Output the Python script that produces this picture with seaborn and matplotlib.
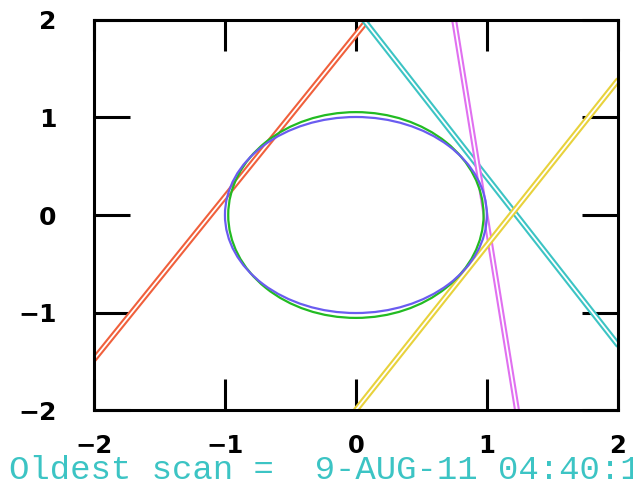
import numpy as np
import pandas as pd
import matplotlib
matplotlib.use("Agg")
import matplotlib.pyplot as plt
import matplotlib.patheffects as pe
from matplotlib.patches import Ellipse
import seaborn as sns

# ---- data ----
line_names = ["orange", "cyan", "magenta", "yellow"]
x_start = [-2.0, 0.06, 0.75, 0.0]
y_start = [-1.48, 2.0, 2.0, -2.0]
x_end = [0.09, 2.0, 1.23, 2.0]
y_end = [2.0, -1.33, -2.0, 1.38]
line_colors = ["#f0603c", "#3cc4c4", "#e070f0", "#e8d23c"]

ellipse_names = ["green", "blue"]
ellipse_cx = [0.0, 0.0]
ellipse_cy = [0.0, 0.0]
ellipse_width = [1.95, 2.0]
ellipse_height = [2.11, 2.01]
ellipse_colors = ["#22bb22", "#6a5cf0"]

x_ticks = [-2, -1, 0, 1, 2]
y_ticks = [-2, -1, 0, 1, 2]
footer = "Oldest scan =  9-AUG-11 04:40:1"

# ---- build table ----
rows = []
for n, xs, ys, xe, ye in zip(line_names, x_start, y_start, x_end, y_end):
    rows.append({"name": n, "x": xs, "y": ys})
    rows.append({"name": n, "x": xe, "y": ye})
df = pd.DataFrame(rows)

sns.set_theme(style="white")
plt.rcParams["font.family"] = ["DejaVu Sans"]

fig = plt.figure(figsize=(6.33, 4.87), dpi=100)
ax = fig.add_axes([0.1485, 0.158, 0.8275, 0.801])

palette = dict(zip(line_names, line_colors))
sns.lineplot(data=df, x="x", y="y", hue="name", units="name", estimator=None,
             sort=False, palette=palette, legend=False, ax=ax, linewidth=1.3)
for line, col in zip(ax.lines, line_colors):
    line.set_color("white")
    line.set_path_effects([pe.Stroke(linewidth=4.3, foreground=col), pe.Normal()])

for cx, cy, w, h, c in zip(ellipse_cx, ellipse_cy, ellipse_width, ellipse_height, ellipse_colors):
    ax.add_patch(Ellipse((cx, cy), w, h, fill=False, edgecolor=c, linewidth=1.6, zorder=4))

ax.set_xlim(-2, 2)
ax.set_ylim(-2, 2)
ax.set_xticks(x_ticks)
ax.set_yticks(y_ticks)
ax.set_xlabel("")
ax.set_ylabel("")
for s in ax.spines.values():
    s.set_visible(True)
    s.set_color("black")
    s.set_linewidth(2.2)
ax.tick_params(axis="x", direction="in", length=22, width=2.2, top=True, bottom=True,
               labelsize=17.5, pad=17, colors="black")
ax.tick_params(axis="y", direction="in", length=26, width=2.2, left=True, right=True,
               labelsize=18, pad=27, colors="black")
for lab in ax.get_xticklabels() + ax.get_yticklabels():
    lab.set_fontweight("bold")

fig.text(0.015, 0.016, footer, family="Liberation Mono", fontsize=24.5,
         color="#3cc4c4", va="baseline", ha="left")

fig.savefig("out.png", dpi=100)
